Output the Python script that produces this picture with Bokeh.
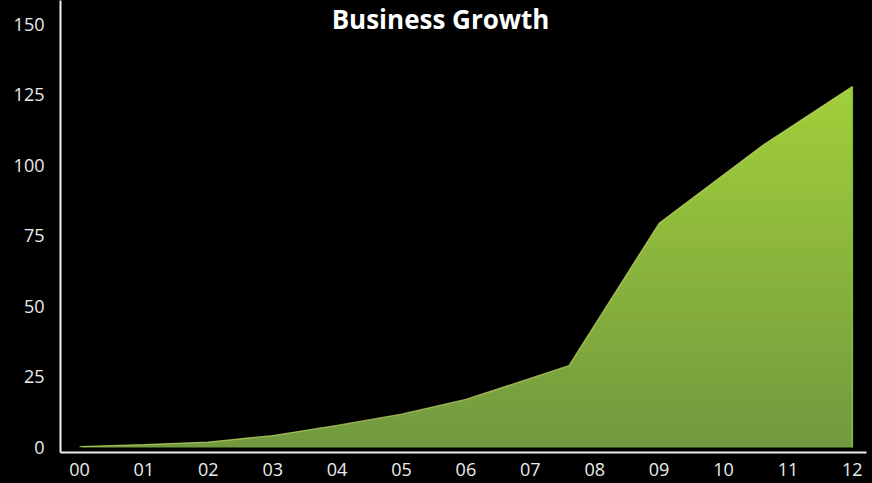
import numpy as np
from bokeh.plotting import figure
from bokeh.models import FixedTicker, Label, Range1d
from bokeh.embed import file_html
from bokeh.resources import INLINE

# ---- data ----
year_labels = ["00", "01", "02", "03", "04", "05", "06", "07", "08", "09", "10", "11", "12"]
x_pos = [0, 1, 2, 3, 4, 5, 6, 7.6, 9, 10.6, 12]
values = [0.3, 1.0, 1.9, 4.2, 7.8, 11.8, 17.0, 29.0, 79.5, 107.0, 128.0]
y_ticks = [0, 25, 50, 75, 100, 125, 150]
title_text = "Business Growth"

W, H = 872, 483
FONT = "Open Sans"

p = figure(width=W, height=H, output_backend="svg", toolbar_location=None,
           x_range=Range1d(-0.295, 12.22), y_range=Range1d(-1.8, 158.5),
           min_border_left=60, min_border_right=6, min_border_top=0, min_border_bottom=31)
p.background_fill_color = "black"
p.border_fill_color = "black"
p.outline_line_color = None
p.grid.visible = False

# vertical gradient fill: horizontal bands, then black mask above the curve
vals = np.array(values)
top_val = vals.max()
n_bands = 40
levels = np.linspace(0, top_val, n_bands + 1)
overlap = top_val / n_bands * 0.5
c0 = np.array([0x72, 0x99, 0x40])
c1 = np.array([0xa2, 0xd0, 0x3a])
colors = []
for i in range(n_bands):
    t = (i + 0.5) / n_bands
    c = (c0 + (c1 - c0) * t).astype(int)
    colors.append("#%02x%02x%02x" % tuple(c))
tops = np.minimum(levels[1:] + overlap, top_val)
p.quad(left=x_pos[0] + 0.04, right=x_pos[-1], bottom=levels[:-1], top=tops,
       fill_color=colors, line_color=None)
# mask above the curve
p.varea(x=x_pos, y1=values, y2=[165] * len(values), fill_color="black")
# subtle light edges along the top and the right side
p.line(x=x_pos, y=values, line_color="#c6e06a", line_width=1.3, line_alpha=0.7)
p.segment(x0=x_pos[-1], y0=0, x1=x_pos[-1], y1=values[-1], line_color="#8cbc3c", line_width=1.5)

# axes
p.xaxis.ticker = FixedTicker(ticks=list(range(len(year_labels))))
p.xaxis.major_label_overrides = {i: s for i, s in enumerate(year_labels)}
p.yaxis.ticker = FixedTicker(ticks=y_ticks)
for ax in (p.xaxis[0], p.yaxis[0]):
    ax.axis_line_color = "#f0f0f0"
    ax.axis_line_width = 2
    ax.major_tick_line_color = None
    ax.minor_tick_line_color = None
    ax.major_label_text_color = "#ececec"
    ax.major_label_text_font = FONT
    ax.major_label_text_font_size = "18px"
p.yaxis.major_label_standoff = 10
p.xaxis.major_label_standoff = 4

p.add_layout(Label(x=5.606, y=152.0, text=title_text,
                   text_font=FONT, text_font_style="bold", text_font_size="26px",
                   text_color="white", text_align="center", text_baseline="alphabetic"))

open("out.html", "w").write(file_html(p, INLINE).replace("<body>", "<body style=\"background:#000000\">"))
